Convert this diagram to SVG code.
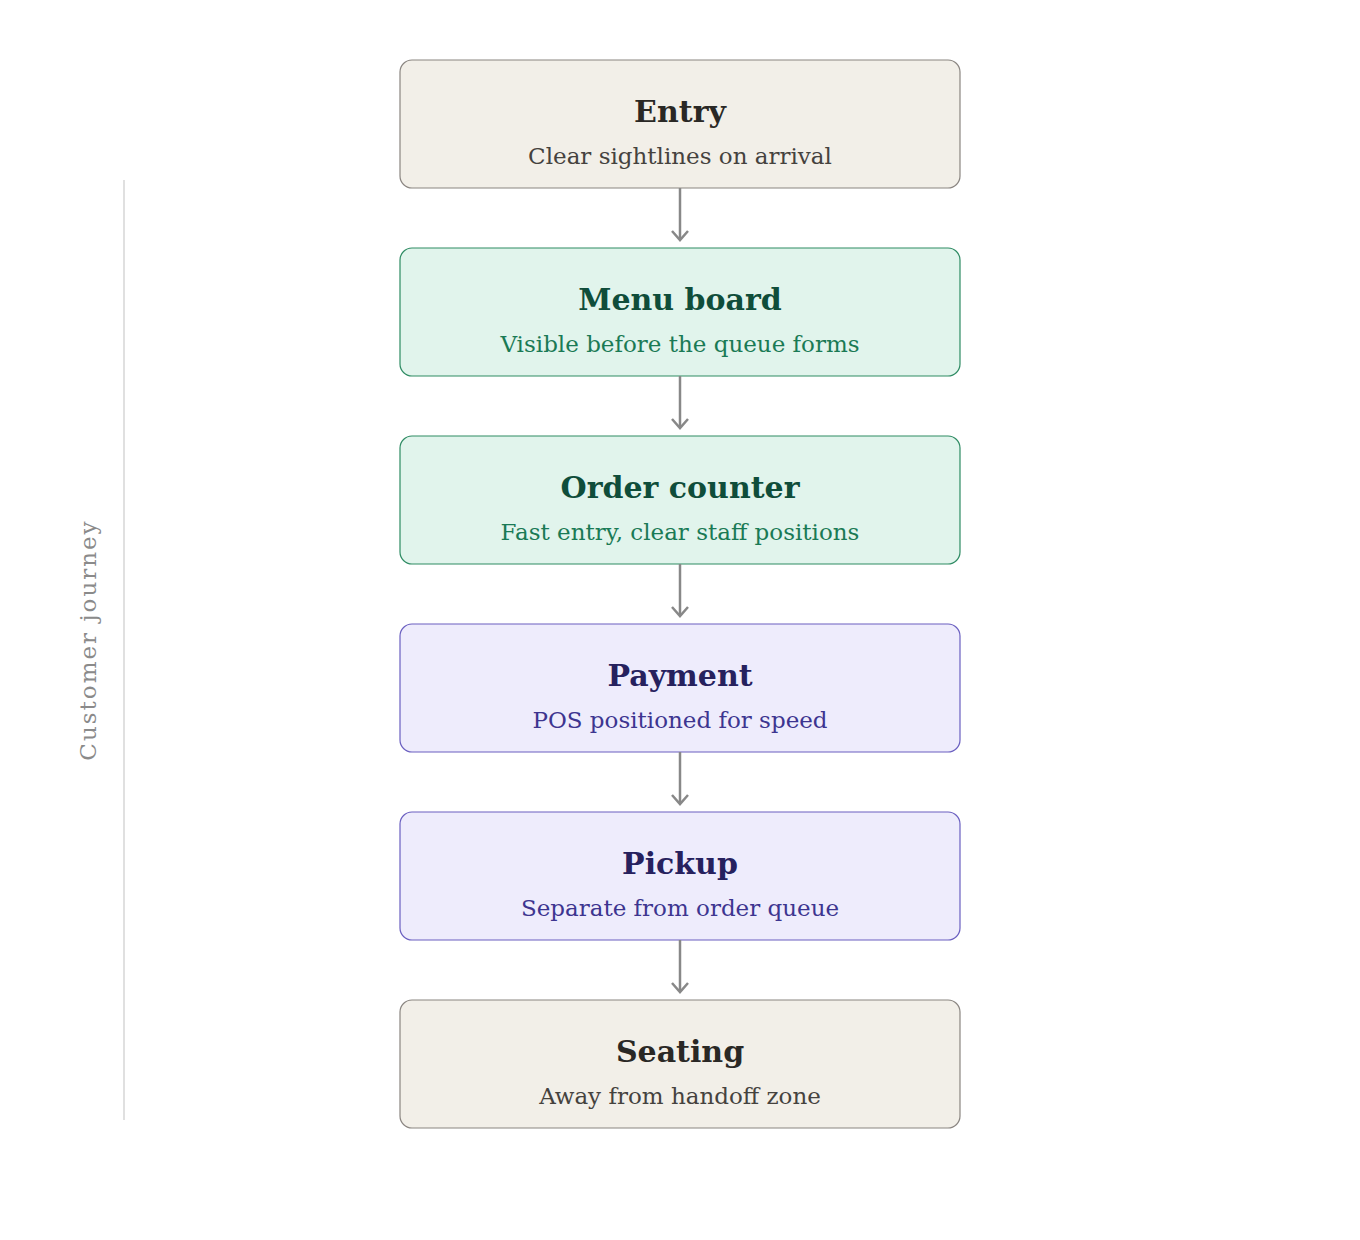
<svg xmlns="http://www.w3.org/2000/svg" width="1360" height="1240" viewBox="0 0 1360 1240">
<style>
.t{font-family:"DejaVu Serif",serif;font-weight:bold;font-size:30px;text-anchor:middle}
.s{font-family:"DejaVu Serif",serif;font-size:23px;text-anchor:middle}
.b rect{fill:#f2efe8;stroke:#8a8580;stroke-width:1.2}
.b .t{fill:#2a2825}.b .s{fill:#45423e}
.g rect{fill:#e1f4ec;stroke:#2e8b63;stroke-width:1.2}
.g .t{fill:#0f4d3a}.g .s{fill:#1a7a55}
.p rect{fill:#eeecfc;stroke:#6a5fc0;stroke-width:1.2}
.p .t{fill:#26215e}.p .s{fill:#3d3590}
.c line{stroke:#888;stroke-width:2.5}
.c path{fill:none;stroke:#888;stroke-width:2.5}
</style>
<rect width="1360" height="1240" fill="#fff"/>
<line x1="124" y1="180" x2="124" y2="1120" stroke="#ccc" stroke-width="1.2"/>
<text transform="translate(96,640) rotate(-90)" font-family="DejaVu Serif,serif" font-size="23" fill="#8a8a8a" text-anchor="middle" letter-spacing="2">Customer journey</text>
<g id="entry" class="b"><rect x="400" y="60" width="560" height="128" rx="12"/><text class="t" x="680" y="122">Entry</text><text class="s" x="680" y="164">Clear sightlines on arrival</text></g>
<g id="menu" class="g"><rect x="400" y="248" width="560" height="128" rx="12"/><text class="t" x="680" y="310">Menu board</text><text class="s" x="680" y="352">Visible before the queue forms</text></g>
<g id="order" class="g"><rect x="400" y="436" width="560" height="128" rx="12"/><text class="t" x="680" y="498">Order counter</text><text class="s" x="680" y="540">Fast entry, clear staff positions</text></g>
<g id="payment" class="p"><rect x="400" y="624" width="560" height="128" rx="12"/><text class="t" x="680" y="686">Payment</text><text class="s" x="680" y="728">POS positioned for speed</text></g>
<g id="pickup" class="p"><rect x="400" y="812" width="560" height="128" rx="12"/><text class="t" x="680" y="874">Pickup</text><text class="s" x="680" y="916">Separate from order queue</text></g>
<g id="seating" class="b"><rect x="400" y="1000" width="560" height="128" rx="12"/><text class="t" x="680" y="1062">Seating</text><text class="s" x="680" y="1104">Away from handoff zone</text></g>
<g id="connectors" class="c">
<line x1="680" y1="188" x2="680" y2="239"/><path d="M672 231 L680 240 L688 231"/>
<line x1="680" y1="376" x2="680" y2="427"/><path d="M672 419 L680 428 L688 419"/>
<line x1="680" y1="564" x2="680" y2="615"/><path d="M672 607 L680 616 L688 607"/>
<line x1="680" y1="752" x2="680" y2="803"/><path d="M672 795 L680 804 L688 795"/>
<line x1="680" y1="940" x2="680" y2="991"/><path d="M672 983 L680 992 L688 983"/>
</g>
</svg>
